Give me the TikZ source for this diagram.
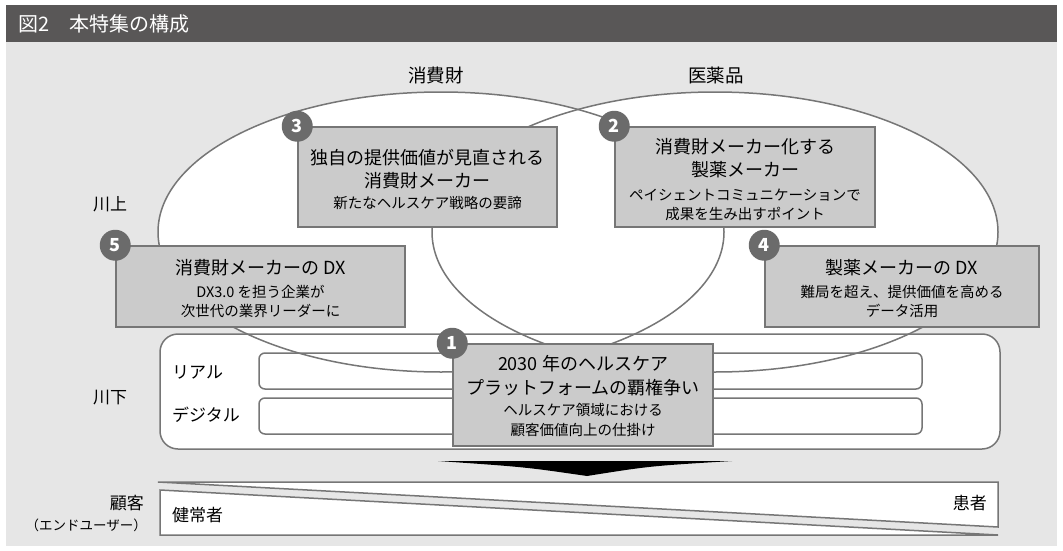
\documentclass[tikz,border=0pt]{standalone}
\usepackage{fontspec}
\setmainfont{Noto Sans CJK JP}
\definecolor{panel}{HTML}{E6E6E6}
\definecolor{titlebar}{HTML}{595757}
\definecolor{linegray}{HTML}{767676}
\definecolor{boxgray}{HTML}{CBCBCB}
\definecolor{numgray}{HTML}{6B6B6B}
\begin{document}
\begin{tikzpicture}[x=1pt,y=-1pt,
  lbl/.style={inner sep=0pt, font=\fontsize{17}{20}\selectfont},
  tA/.style={inner sep=0pt, font=\fontsize{18}{20}\selectfont},
  tB/.style={inner sep=0pt, font=\fontsize{14.5}{17}\selectfont},
  card/.style={draw=linegray, line width=1.5pt, fill=boxgray, inner sep=0pt},
  num/.style={circle, fill=numgray, inner sep=0pt, minimum size=31pt, text=white, font=\fontsize{18}{20}\selectfont\bfseries},
  edge/.style={draw=linegray, line width=1.5pt}]
\useasboundingbox (0,0) rectangle (1063,551);
\fill[white] (0,0) rectangle (1063,551);
\fill[panel] (6,42) rectangle (1057,546);
\fill[titlebar] (6,5) rectangle (1057,42);
\node[anchor=west, text=white, font=\fontsize{20}{24}\selectfont, inner sep=0pt] (title) at (18,24) {図2　本特集の構成};

% ellipse fills
\fill[white] (441,232) ellipse [x radius=283pt, y radius=140pt];
\fill[white] (715,232) ellipse [x radius=283pt, y radius=140pt];

% downstream frame
\draw[edge, fill=white, rounded corners=18pt] (160,334) rectangle (1000,449);
\draw[edge, fill=white, rounded corners=6pt] (259,353) rectangle (922,389);
\draw[edge, fill=white, rounded corners=6pt] (259,398) rectangle (922,434);

% ellipse strokes
\draw[edge] (441,232) ellipse [x radius=283pt, y radius=140pt];
\draw[edge] (715,232) ellipse [x radius=283pt, y radius=140pt];

% labels
\node[lbl, font=\fontsize{18.5}{20}\selectfont] (lcons) at (436,75) {消費財};
\node[lbl, font=\fontsize{18.5}{20}\selectfont] (lpharm) at (716,75) {医薬品};
\node[lbl] (lup) at (110,204) {川上};
\node[lbl] (ldown) at (110,398) {川下};
\node[lbl, anchor=west] (lreal) at (172,372) {リアル};
\node[lbl, anchor=west] (ldig) at (172,415) {デジタル};

% box 3
\node[card, minimum width=259pt, minimum height=100pt] (b3) at (427.5,177) {};
\node[tA] (b3a) at (427.5,158) {独自の提供価値が見直される};
\node[tA] (b3b) at (427.5,181) {消費財メーカー};
\node[tB] (b3c) at (427.5,203) {新たなヘルスケア戦略の要諦};
\node[num] (c3) at (b3.north west) {3};

% box 2
\node[card, minimum width=260pt, minimum height=100pt] (b2) at (745,177) {};
\node[tA] (b2a) at (745,147) {消費財メーカー化する};
\node[tA] (b2b) at (745,170) {製薬メーカー};
\node[tB] (b2c) at (745,195) {ペイシェントコミュニケーションで};
\node[tB] (b2d) at (745,214) {成果を生み出すポイント};
\node[num] (c2) at (b2.north west) {2};

% box 5
\node[card, minimum width=289pt, minimum height=81pt] (b5) at (260.5,286.5) {};
\node[tA] (b5a) at (260.5,268) {消費財メーカーの DX};
\node[tB] (b5b) at (260.5,292) {DX3.0 を担う企業が};
\node[tB] (b5c) at (260.5,311) {次世代の業界リーダーに};
\node[num] (c5) at (b5.north west) {5};

% box 4
\node[card, minimum width=274pt, minimum height=81pt] (b4) at (902,286.5) {};
\node[tA] (b4a) at (902,268) {製薬メーカーの DX};
\node[tB] (b4b) at (902,292) {難局を超え、提供価値を高める};
\node[tB] (b4c) at (902,311) {データ活用};
\node[num] (c4) at (b4.north west) {4};

% box 1
\node[card, minimum width=260pt, minimum height=102pt] (b1) at (583,395) {};
\node[tA] (b1a) at (583,364) {2030 年のヘルスケア};
\node[tA] (b1b) at (583,388) {プラットフォームの覇権争い};
\node[tB] (b1c) at (583,410) {ヘルスケア領域における};
\node[tB] (b1d) at (583,430) {顧客価値向上の仕掛け};
\node[num] (c1) at (b1.north west) {1};

% arrow
\fill[black] (438,461) -- (732,461) .. controls (650,466) .. (587,476) .. controls (525,467) .. cycle;

% customer bar
\draw[edge, fill=white, line join=miter] (158,482) -- (998,482) -- (998,527) -- cycle;
\draw[edge, fill=white, line join=miter] (160,490) -- (160,535) -- (998,535) -- cycle;
\node[lbl, anchor=west] (lhealthy) at (172,515) {健常者};
\node[lbl, anchor=east] (lpatient) at (987,503) {患者};
\node[lbl, anchor=east] (lcust) at (144,503) {顧客};
\node[inner sep=0pt, anchor=east, font=\fontsize{13.5}{16}\selectfont] (lend) at (147,525) {（エンドユーザー）};
\end{tikzpicture}
\end{document}
